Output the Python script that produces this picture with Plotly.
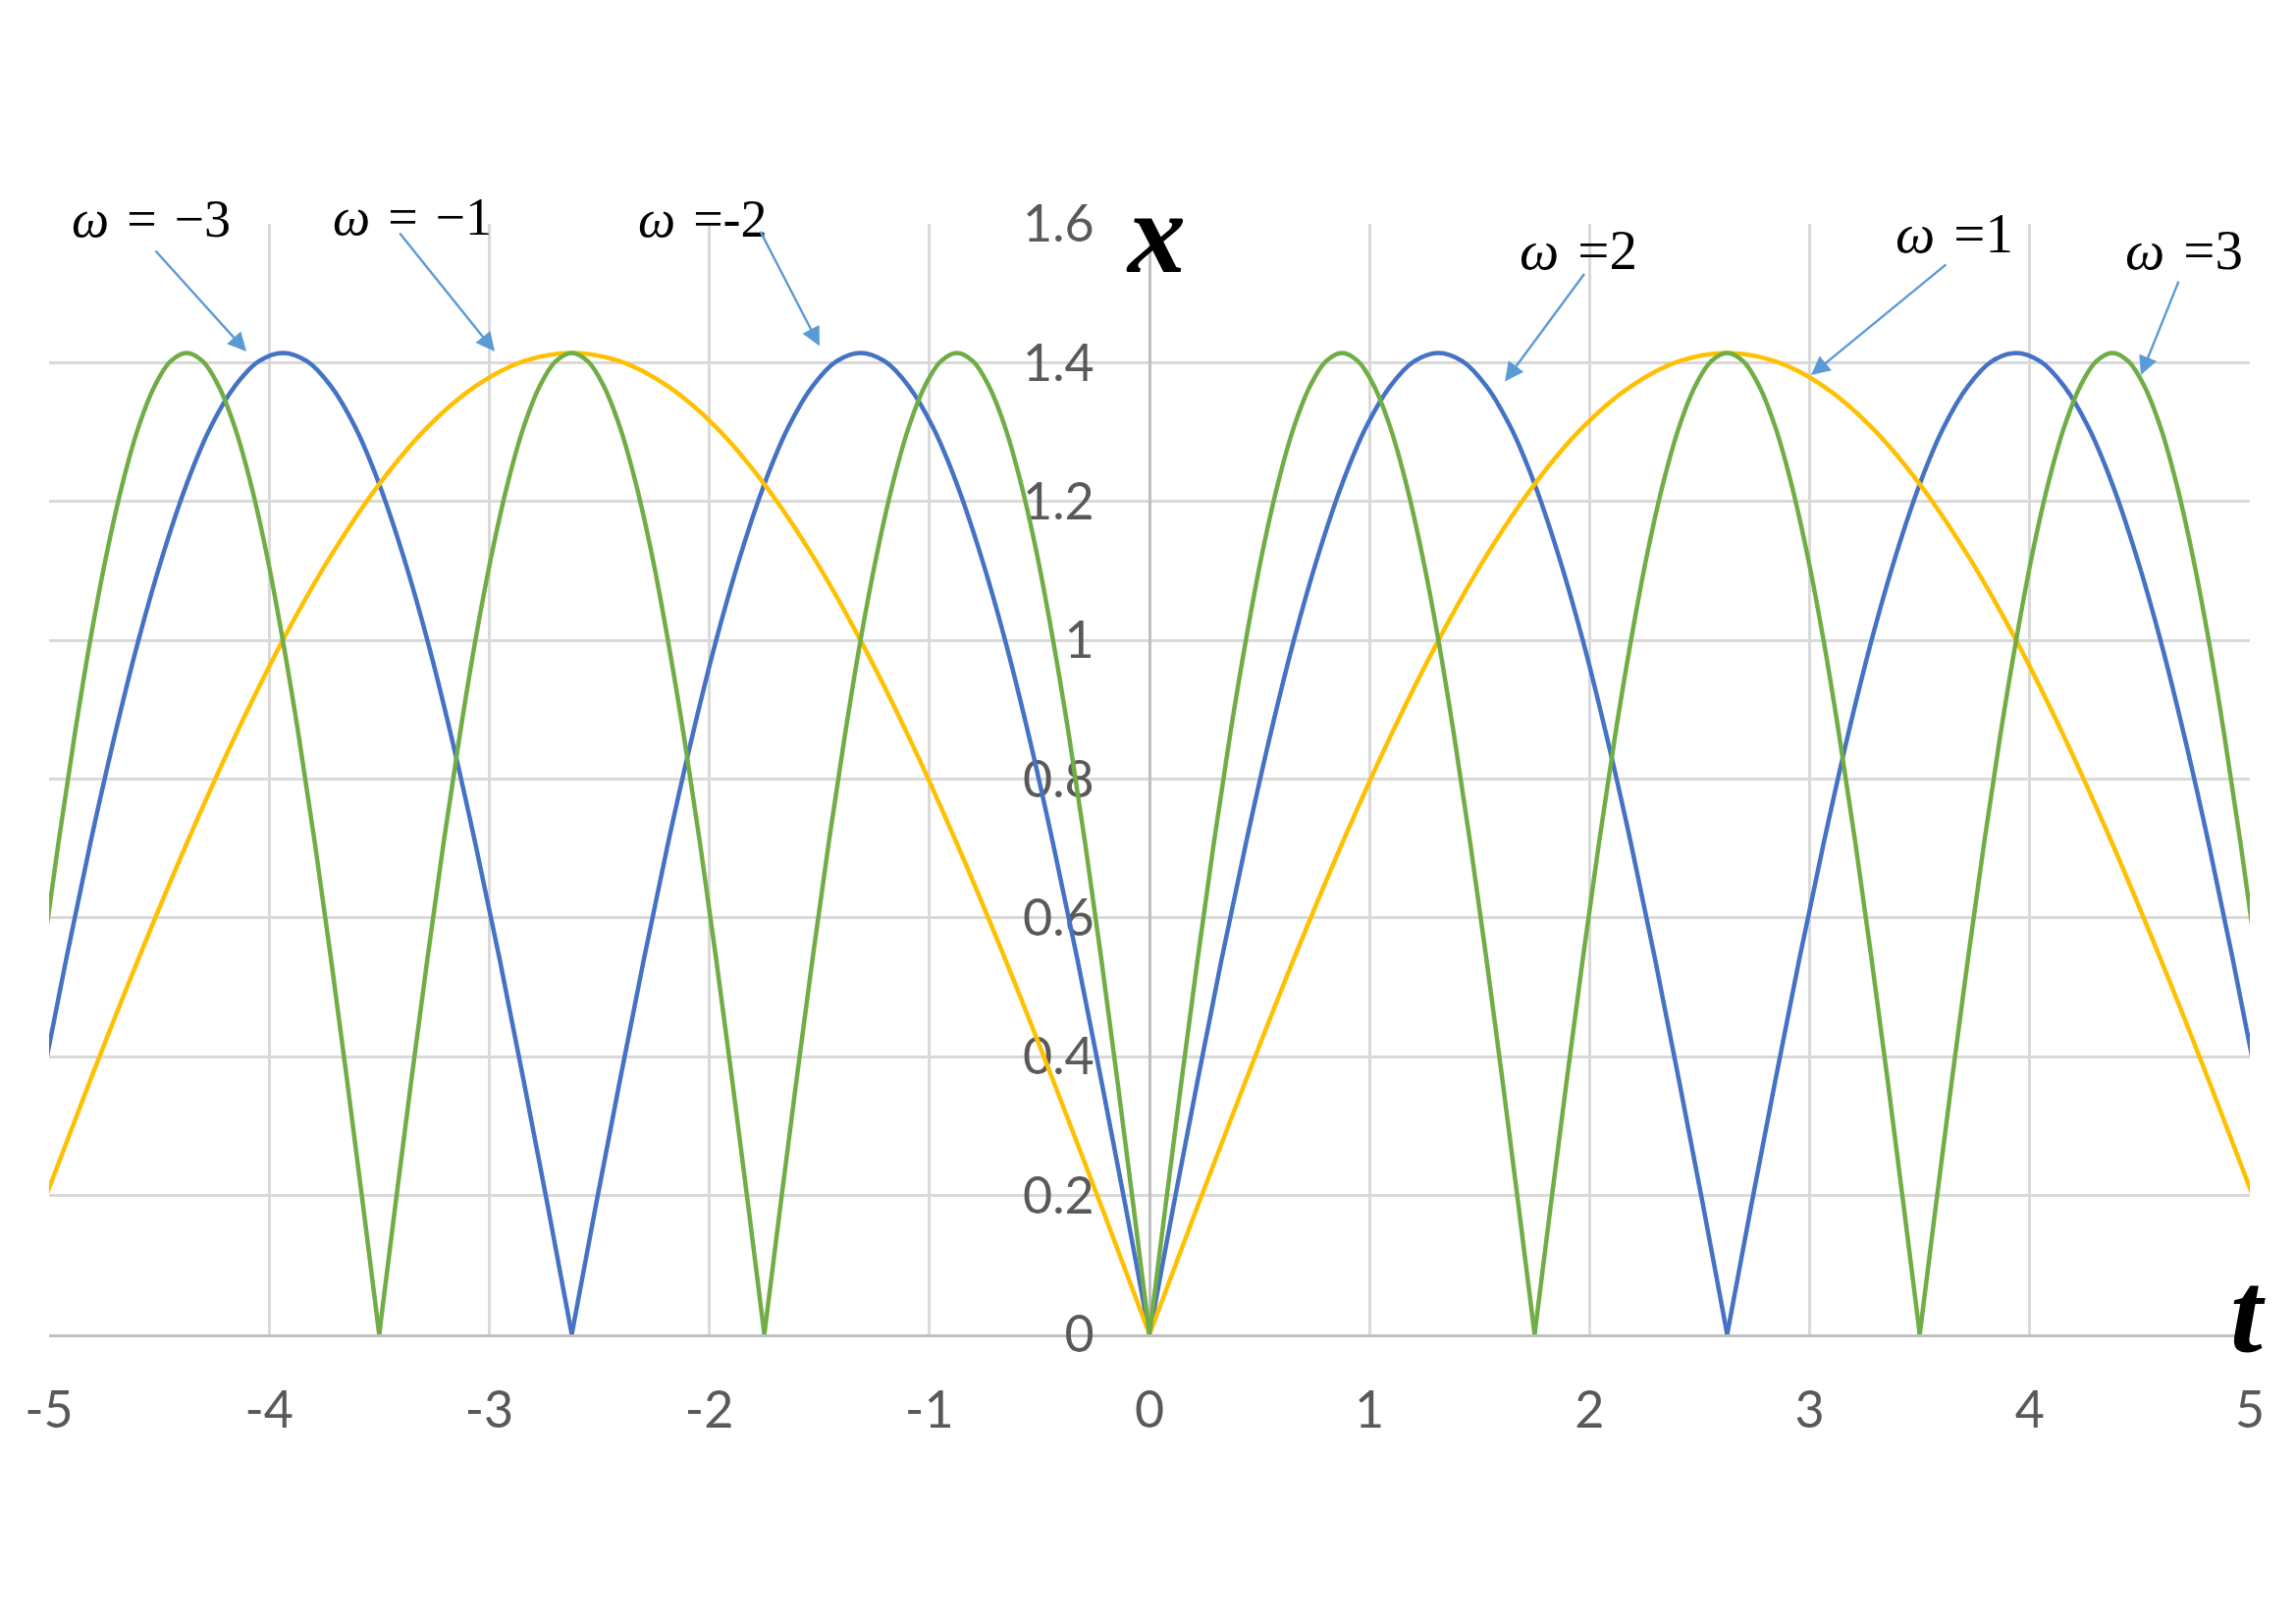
"""|x(t)| curves for omega = 1, 2, 3 (and the mirrored negatives)."""
import plotly.graph_objects as go

# time samples and |x| values, one list pair per curve
T_YELLOW = [-5.25, -5.031, -4.813, -4.594, -4.375, -4.156, -3.938, -3.719, -3.5, -3.281,
            -3.063, -2.844, -2.625, -2.406, -2.188, -1.969, -1.75, -1.531, -1.313, -1.094,
            -0.875, -0.656, -0.438, -0.219, 0, 0.219, 0.438, 0.656, 0.875, 1.094, 1.313,
            1.531, 1.75, 1.969, 2.188, 2.406, 2.625, 2.844, 3.063, 3.281, 3.5, 3.719,
            3.938, 4.156, 4.375, 4.594, 4.813, 5.031, 5.25]
Y_YELLOW = [
    0, 0.185, 0.366, 0.541, 0.707, 0.861, 1.0, 1.122, 1.225, 1.307, 1.366, 1.402,
    1.414, 1.402, 1.366, 1.307, 1.225, 1.122, 1.0, 0.861, 0.707, 0.541, 0.366, 0.185,
    0, 0.185, 0.366, 0.541, 0.707, 0.861, 1.0, 1.122, 1.225, 1.307, 1.366, 1.402,
    1.414, 1.402, 1.366, 1.307, 1.225, 1.122, 1.0, 0.861, 0.707, 0.541, 0.366, 0.185,
    0]

T_BLUE = [-5.25, -5.141, -5.031, -4.922, -4.813, -4.703, -4.594, -4.484, -4.375, -4.266,
          -4.156, -4.047, -3.938, -3.828, -3.719, -3.609, -3.5, -3.391, -3.281, -3.172,
          -3.063, -2.953, -2.844, -2.734, -2.625, -2.516, -2.406, -2.297, -2.188, -2.078,
          -1.969, -1.859, -1.75, -1.641, -1.531, -1.422, -1.313, -1.203, -1.094, -0.984,
          -0.875, -0.766, -0.656, -0.547, -0.438, -0.328, -0.219, -0.109,
          0, 0.109, 0.219, 0.328, 0.438, 0.547, 0.656, 0.766, 0.875, 0.984, 1.094, 1.203,
          1.313, 1.422, 1.531, 1.641, 1.75, 1.859, 1.969, 2.078, 2.188, 2.297, 2.406,
          2.516, 2.625, 2.734, 2.844, 2.953, 3.063, 3.172, 3.281, 3.391, 3.5, 3.609,
          3.719, 3.828, 3.938, 4.047, 4.156, 4.266, 4.375, 4.484, 4.594, 4.703, 4.813,
          4.922, 5.031, 5.141, 5.25]
Y_BLUE = [
    0, 0.185, 0.366, 0.541, 0.707, 0.861, 1.0, 1.122, 1.225, 1.307, 1.366, 1.402,
    1.414, 1.402, 1.366, 1.307, 1.225, 1.122, 1.0, 0.861, 0.707, 0.541, 0.366, 0.185,
    0, 0.185, 0.366, 0.541, 0.707, 0.861, 1.0, 1.122, 1.225, 1.307, 1.366, 1.402,
    1.414, 1.402, 1.366, 1.307, 1.225, 1.122, 1.0, 0.861, 0.707, 0.541, 0.366, 0.185,
    0, 0.185, 0.366, 0.541, 0.707, 0.861, 1.0, 1.122, 1.225, 1.307, 1.366, 1.402,
    1.414, 1.402, 1.366, 1.307, 1.225, 1.122, 1.0, 0.861, 0.707, 0.541, 0.366, 0.185,
    0, 0.185, 0.366, 0.541, 0.707, 0.861, 1.0, 1.122, 1.225, 1.307, 1.366, 1.402,
    1.414, 1.402, 1.366, 1.307, 1.225, 1.122, 1.0, 0.861, 0.707, 0.541, 0.366, 0.185,
    0]

T_GREEN = [-5.25, -5.177, -5.104, -5.031, -4.958, -4.885, -4.813, -4.740, -4.667, -4.594,
           -4.521, -4.448, -4.375, -4.302, -4.229, -4.156, -4.083, -4.010, -3.938, -3.865,
           -3.792, -3.719, -3.646, -3.573, -3.5, -3.427, -3.354, -3.281, -3.208, -3.135,
           -3.063, -2.990, -2.917, -2.844, -2.771, -2.698, -2.625, -2.552, -2.479, -2.406,
           -2.333, -2.260, -2.188, -2.115, -2.042, -1.969, -1.896, -1.823, -1.75, -1.677,
           -1.604, -1.531, -1.458, -1.385, -1.313, -1.240, -1.167, -1.094, -1.021, -0.948,
           -0.875, -0.802, -0.729, -0.656, -0.583, -0.510, -0.438, -0.365, -0.292, -0.219,
           -0.146, -0.073,
           0, 0.073, 0.146, 0.219, 0.292, 0.365, 0.438, 0.510, 0.583, 0.656, 0.729, 0.802,
           0.875, 0.948, 1.021, 1.094, 1.167, 1.240, 1.313, 1.385, 1.458, 1.531, 1.604,
           1.677, 1.75, 1.823, 1.896, 1.969, 2.042, 2.115, 2.188, 2.260, 2.333, 2.406,
           2.479, 2.552, 2.625, 2.698, 2.771, 2.844, 2.917, 2.990, 3.063, 3.135, 3.208,
           3.281, 3.354, 3.427, 3.5, 3.573, 3.646, 3.719, 3.792, 3.865, 3.938, 4.010,
           4.083, 4.156, 4.229, 4.302, 4.375, 4.448, 4.521, 4.594, 4.667, 4.740, 4.813,
           4.885, 4.958, 5.031, 5.104, 5.177, 5.25]
Y_GREEN = [
    0, 0.185, 0.366, 0.541, 0.707, 0.861, 1.0, 1.122, 1.225, 1.307, 1.366, 1.402,
    1.414, 1.402, 1.366, 1.307, 1.225, 1.122, 1.0, 0.861, 0.707, 0.541, 0.366, 0.185,
    0, 0.185, 0.366, 0.541, 0.707, 0.861, 1.0, 1.122, 1.225, 1.307, 1.366, 1.402,
    1.414, 1.402, 1.366, 1.307, 1.225, 1.122, 1.0, 0.861, 0.707, 0.541, 0.366, 0.185,
    0, 0.185, 0.366, 0.541, 0.707, 0.861, 1.0, 1.122, 1.225, 1.307, 1.366, 1.402,
    1.414, 1.402, 1.366, 1.307, 1.225, 1.122, 1.0, 0.861, 0.707, 0.541, 0.366, 0.185,
    0, 0.185, 0.366, 0.541, 0.707, 0.861, 1.0, 1.122, 1.225, 1.307, 1.366, 1.402,
    1.414, 1.402, 1.366, 1.307, 1.225, 1.122, 1.0, 0.861, 0.707, 0.541, 0.366, 0.185,
    0, 0.185, 0.366, 0.541, 0.707, 0.861, 1.0, 1.122, 1.225, 1.307, 1.366, 1.402,
    1.414, 1.402, 1.366, 1.307, 1.225, 1.122, 1.0, 0.861, 0.707, 0.541, 0.366, 0.185,
    0, 0.185, 0.366, 0.541, 0.707, 0.861, 1.0, 1.122, 1.225, 1.307, 1.366, 1.402,
    1.414, 1.402, 1.366, 1.307, 1.225, 1.122, 1.0, 0.861, 0.707, 0.541, 0.366, 0.185,
    0]

X_TICKS = [-5, -4, -3, -2, -1, 0, 1, 2, 3, 4, 5]
X_TICK_TEXT = ["-5", "-4", "-3", "-2", "-1", "0", "1", "2", "3", "4", "5"]
Y_TICKS = [0, 0.2, 0.4, 0.6, 0.8, 1.0, 1.2, 1.4, 1.6]
Y_TICK_TEXT = ["0", "0.2", "0.4", "0.6", "0.8", "1", "1.2", "1.4", "1.6"]

OMEGA_LABELS = ["<i>ω</i>\u2004=\u2004−3", "<i>ω</i>\u2004=\u2004−1", "<i>ω</i>\u2004=-2",
                "<i>ω</i>\u2004=2", "<i>ω</i>\u2004=1", "<i>ω</i>\u2004=3"]

# label placement: (text x, text y in paper units, font size, arrow head x, head y, tail dx, tail dy)
LABEL_POS = [
    (-4.534, 1.004, 54, -4.103, 1.416, -94, -104),
    (-3.350, 1.006, 54, -2.975, 1.416, -98, -122),
    (-2.029, 1.004, 54, -1.499, 1.424, -61, -118),
    (1.949, 0.977, 57, 1.615, 1.373, 82, -111),
    (3.657, 0.992, 57, 3.006, 1.382, 139, -114),
    (4.701, 0.977, 57, 4.505, 1.382, 39, -97),
]

for name, t, y in [("yellow", T_YELLOW, Y_YELLOW), ("blue", T_BLUE, Y_BLUE), ("green", T_GREEN, Y_GREEN)]:
    assert len(t) == len(y), name


def split_humps(t, y):
    """Cut a curve at its zeros so each arch is smoothed on its own (keeps the cusps sharp)."""
    zeros = [i for i, v in enumerate(y) if v == 0]
    return [(t[a:b + 1], y[a:b + 1]) for a, b in zip(zeros[:-1], zeros[1:])]


fig = go.Figure()
for t, y, color in [(T_BLUE, Y_BLUE, "#4472C4"), (T_YELLOW, Y_YELLOW, "#FFC000"),
                    (T_GREEN, Y_GREEN, "#70AD47")]:
    for ht, hy in split_humps(t, y):
        fig.add_trace(go.Scatter(
            x=ht, y=hy, mode="lines", showlegend=False, hoverinfo="skip",
            line=dict(color=color, width=4.5, shape="spline", smoothing=1),
        ))

for text, (lx, ly, size, hx, hy, dx, dy) in zip(OMEGA_LABELS, LABEL_POS):
    fig.add_annotation(x=lx, y=ly, yref="paper", xanchor="center", yanchor="middle",
                       text=text, showarrow=False,
                       font=dict(family="Liberation Serif, Times New Roman", size=size, color="black"))
    fig.add_annotation(x=hx, y=hy, text="", showarrow=True, ax=dx, ay=dy,
                       arrowhead=2, arrowsize=1.6, arrowwidth=2.4, arrowcolor="#5B9BD5")

# axis names drawn as math-style italics
fig.add_annotation(x=0.027, y=1.587, text="<b><i>x</i></b>", showarrow=False,
                   font=dict(family="Liberation Serif", size=118, color="black"))
fig.add_annotation(x=4.99, y=0.03, text="<b><i>t</i></b>", showarrow=False,
                   font=dict(family="Liberation Serif", size=118, color="black"))

tick_font = dict(family="Lato, Open Sans", size=52, color="#595959")
fig.update_layout(
    width=2339, height=1654,
    margin=dict(l=42, r=55, t=220, b=303),
    plot_bgcolor="white", paper_bgcolor="white",
    xaxis=dict(range=[-5, 5], tickvals=X_TICKS, ticktext=X_TICK_TEXT, ticks="",
               showgrid=True, gridcolor="#D9D9D9", gridwidth=3, zeroline=False,
               showline=True, linecolor="#BFBFBF", linewidth=3,
               tickfont=tick_font, ticklabelstandoff=30, layer="below traces"),
    yaxis=dict(range=[0, 1.6], tickvals=Y_TICKS, ticktext=Y_TICK_TEXT, ticks="",
               anchor="free", position=0.5,
               showgrid=True, gridcolor="#D9D9D9", gridwidth=3, zeroline=False,
               showline=True, linecolor="#BFBFBF", linewidth=3,
               tickfont=tick_font, ticklabelstandoff=45, layer="below traces"),
)

fig.write_html("out.html")
